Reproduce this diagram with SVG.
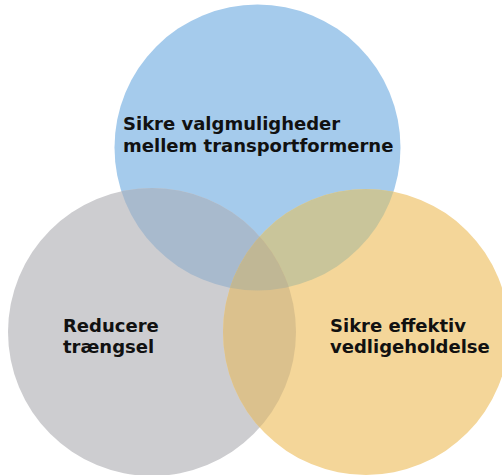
<svg xmlns="http://www.w3.org/2000/svg" width="502" height="475" viewBox="0 0 502 475">
<style>
.lbl{font-family:"DejaVu Sans","Verdana",sans-serif;font-weight:bold;font-size:18px;fill:#111111}
</style>
<defs>
<clipPath id="cBlue"><circle cx="257.5" cy="147.5" r="143"/></clipPath>
<clipPath id="cGray"><circle cx="152" cy="332" r="144"/></clipPath>
</defs>
<rect width="502" height="475" fill="#ffffff"/>
<g id="node-blue">
<circle cx="257.5" cy="147.5" r="143" fill="#a5cbec"/>
</g>
<g id="node-gray">
<circle cx="152" cy="332" r="144" fill="#cdcdd0"/>
</g>
<g id="node-orange">
<circle cx="366" cy="332" r="143" fill="#f4d699"/>
</g>
<g id="overlaps">
<circle cx="152" cy="332" r="144" fill="#a8bacd" clip-path="url(#cBlue)"/>
<circle cx="366" cy="332" r="143" fill="#c9c59a" clip-path="url(#cBlue)"/>
<circle cx="366" cy="332" r="143" fill="#dbc18d" clip-path="url(#cGray)"/>
<g clip-path="url(#cBlue)"><circle cx="366" cy="332" r="143" fill="#c0b795" clip-path="url(#cGray)"/></g>
</g>
<g id="labels">
<text class="lbl" x="123" y="130">Sikre valgmuligheder</text>
<text class="lbl" x="123" y="152">mellem transportformerne</text>
<text class="lbl" x="63" y="332">Reducere</text>
<text class="lbl" x="63" y="353">trængsel</text>
<text class="lbl" x="330" y="332">Sikre effektiv</text>
<text class="lbl" x="330" y="353">vedligeholdelse</text>
</g>
</svg>
